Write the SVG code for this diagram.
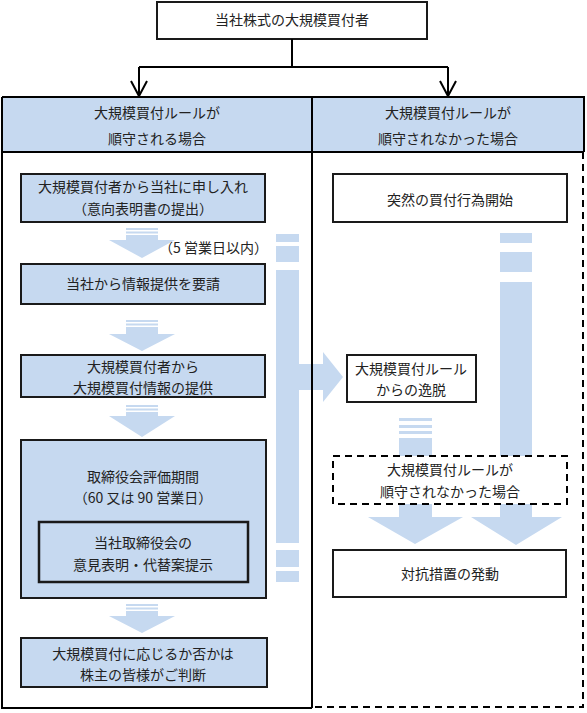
<svg xmlns="http://www.w3.org/2000/svg" width="587" height="713" viewBox="0 0 587 713">
<style>
text{font-family:"Noto Sans CJK JP","Noto Sans",sans-serif;font-size:14px;fill:#222;text-anchor:middle}
.bx{fill:#C6D9F0;stroke:#1a1a1a;stroke-width:2}
.wb{fill:#fff;stroke:#1a1a1a;stroke-width:2}
.ar{fill:#C6D9F0;stroke:none}
.ln{stroke:#000;stroke-width:2;fill:none}
.dl{stroke:#000;stroke-width:2;fill:none;stroke-dasharray:7 5}
</style>
<rect width="587" height="713" fill="#fff"/>
<g id="top">
<rect class="wb" x="157" y="2" width="270" height="37"/>
<text x="292" y="25">当社株式の大規模買付者</text>
</g>
<g id="connectors">
<path class="ln" d="M292 39V67M139 67H448M139 67V96M448 67V96"/>
<path class="ln" d="M131 81L139 96L147 81M440 81L448 96L456 81"/>
</g>
<g id="frame">
<rect x="2" y="97" width="582" height="55" fill="#C6D9F0"/>
<path class="ln" d="M2 97H584V152M2 97V708H312M312 97V708M2 152H584"/>
<path class="dl" d="M583 152V707H312"/>
<text x="157" y="118">大規模買付ルールが</text>
<text x="157" y="144">順守される場合</text>
<text x="448" y="118">大規模買付ルールが</text>
<text x="448" y="144">順守されなかった場合</text>
</g>
<g id="arrows">
<g class="ar">
<rect x="126" y="228" width="32" height="2"/><rect x="126" y="231.5" width="32" height="2"/>
<polygon points="126,235 158,235 158,240 175,240 142,258 109,240 126,240"/>
<rect x="126" y="320" width="32" height="2"/><rect x="126" y="323.5" width="32" height="2"/>
<polygon points="126,327 158,327 158,334 175,334 142,351 109,334 126,334"/>
<rect x="126" y="405" width="32" height="2"/><rect x="126" y="408.5" width="32" height="2"/>
<polygon points="126,412 158,412 158,416 175,416 142,437 109,416 126,416"/>
<rect x="126" y="604" width="32" height="2"/><rect x="126" y="607.5" width="32" height="2"/>
<polygon points="126,611 158,611 158,616 175,616 142,633 109,616 126,616"/>
<rect x="276" y="234" width="23" height="8"/><rect x="276" y="246" width="23" height="16"/>
<rect x="276" y="270" width="23" height="273"/>
<rect x="276" y="550" width="23" height="17"/><rect x="276" y="571" width="23" height="11"/>
<polygon points="299,364 323,364 323,352 343,377 323,402 323,390 299,390"/>
<rect x="399" y="418" width="33" height="3"/><rect x="399" y="425" width="33" height="3"/>
<rect x="399" y="431" width="33" height="3"/>
<polygon points="399,438 432,438 432,517 463,517 415,544 368,517 399,517"/>
<rect x="500" y="233" width="32" height="10"/><rect x="500" y="252" width="32" height="20"/>
<polygon points="500,282 532,282 532,517 562,517 516,545 471,517 500,517"/>
</g>
</g>
<path class="ln" d="M312 152V708"/>
<g id="n1"><rect class="bx" x="21" y="174" width="244" height="48"/>
<text x="143" y="192">大規模買付者から当社に申し入れ</text><text x="143" y="214">（意向表明書の提出）</text></g>
<text x="268" y="253" style="text-anchor:end">（5 営業日以内）</text>
<g id="n2"><rect class="bx" x="21" y="264" width="244" height="40"/>
<text x="143" y="289">当社から情報提供を要請</text></g>
<g id="n3"><rect class="bx" x="21" y="355" width="244" height="42"/>
<text x="143" y="372">大規模買付者から</text><text x="143" y="393">大規模買付情報の提供</text></g>
<g id="n4"><rect class="bx" x="21" y="440" width="245" height="158"/>
<text x="143" y="482">取締役会評価期間</text><text x="143" y="503">（60 又は 90 営業日）</text></g>
<g id="n4a"><rect class="bx" x="39" y="522" width="209" height="60" style="stroke-width:2.5"/>
<text x="143" y="548">当社取締役会の</text><text x="143" y="570">意見表明・代替案提示</text></g>
<g id="n5"><rect class="bx" x="21" y="638" width="246" height="49"/>
<text x="143" y="659">大規模買付に応じるか否かは</text><text x="143" y="680">株主の皆様がご判断</text></g>
<g id="r1"><rect class="wb" x="333" y="174" width="234" height="48"/>
<text x="450" y="205">突然の買付行為開始</text></g>
<g id="r2"><rect class="wb" x="347" y="355" width="129" height="47"/>
<text x="411" y="374">大規模買付ルール</text><text x="411" y="395">からの逸脱</text></g>
<g id="r3"><rect x="333" y="456" width="234" height="48" fill="#fff" stroke="#000" stroke-width="2" stroke-dasharray="7 5"/>
<text x="450" y="475">大規模買付ルールが</text><text x="450" y="497">順守されなかった場合</text></g>
<g id="r4"><rect class="wb" x="333" y="550" width="233" height="47"/>
<text x="450" y="579">対抗措置の発動</text></g>
</svg>
